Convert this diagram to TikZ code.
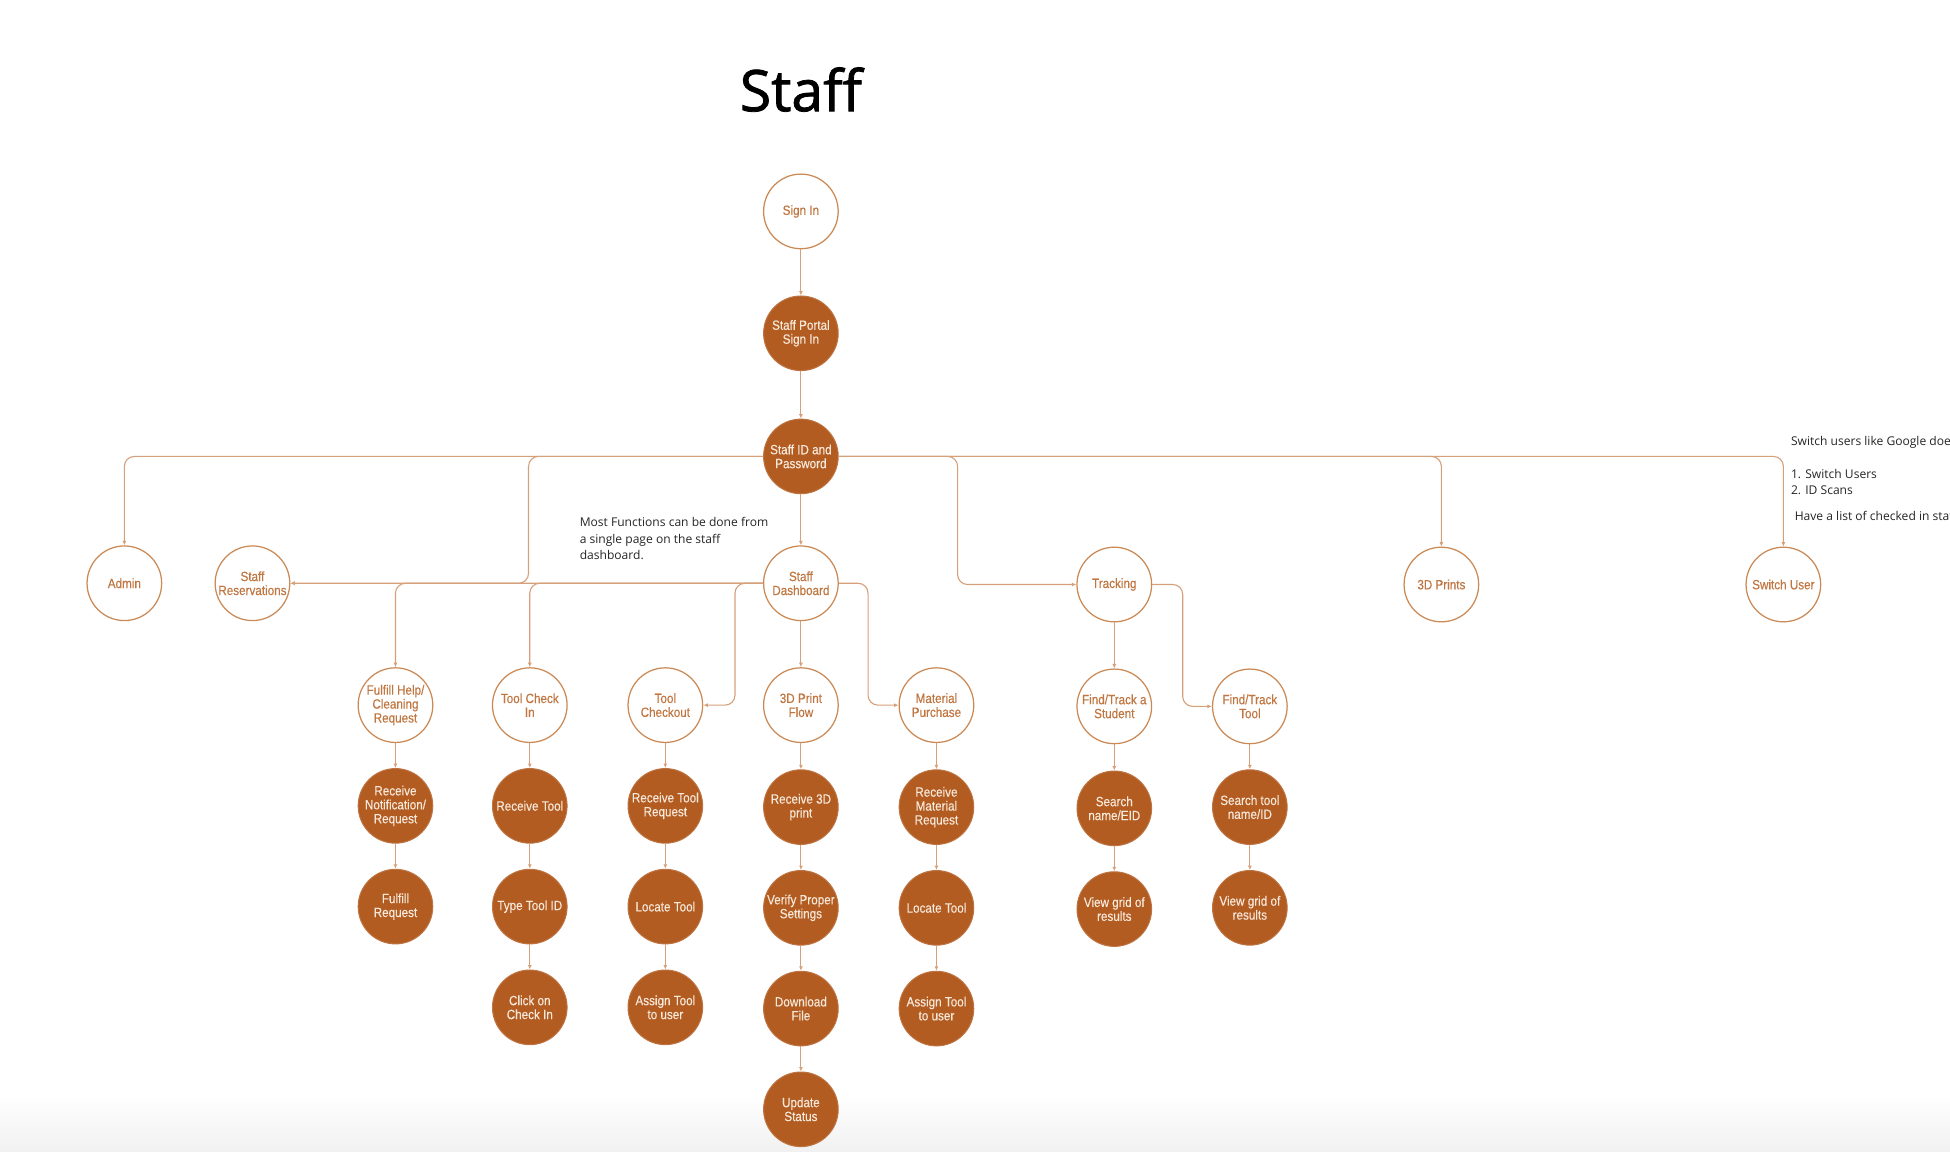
\documentclass[tikz,border=0pt]{standalone}
\usepackage{fontspec}
\setmainfont{Liberation Sans}
\newfontfamily\nodefont{Liberation Sans}[FakeStretch=0.87,FakeBold=0.25]
\newfontfamily\notefont{Open Sans}
\newfontfamily\titlefont{Open Sans}[FakeBold=1.4]
\usetikzlibrary{arrows.meta}
\definecolor{brn}{HTML}{B25C21}
\definecolor{ring}{HTML}{CB8955}
\definecolor{lnk}{HTML}{D6A17A}
\definecolor{lbl}{HTML}{C07640}
\definecolor{cream}{HTML}{F7E8DA}
\definecolor{bandgray}{HTML}{F1F1F1}
\tikzset{
  nbase/.style={circle, minimum size=60pt, inner sep=0pt, align=center,
    font=\nodefont\fontsize{10.8}{11.2}\selectfont},
  ringnode/.style={nbase, draw=ring, line width=1pt, fill=white, text=lbl},
  fillnode/.style={nbase, draw=brn!85!white, line width=0.8pt, fill=brn, text=cream},
  conn/.style={draw=lnk, line width=0.9pt, rounded corners=8pt,
    -{Latex[length=3.6pt,width=3.2pt]}},
  note/.style={font=\notefont\fontsize{9.7}{13}\selectfont, text=black!85, inner sep=0pt, align=left}
}
\begin{document}
\begin{tikzpicture}[x=1pt,y=-1pt]
\useasboundingbox (0,0) rectangle (1568,926);
\clip (0,0) rectangle (1568,926);
\fill[white] (0,0) rectangle (1568,926);
\shade[top color=white, bottom color=bandgray] (0,880) rectangle (1568,926);

\node[font=\titlefont\fontsize{46}{50}\selectfont] (title) at (644,72) {Staff};

% top chain
\node[ringnode] (signin) at (644,170) {Sign In};
\node[fillnode] (portal) at (644,268) {Staff Portal\\Sign In};
\node[fillnode] (sid) at (644,367) {Staff ID and\\Password};

% second level
\node[ringnode] (admin) at (100,469) {Admin};
\node[ringnode] (res) at (203,469) {Staff\\Reservations};
\node[ringnode] (sd) at (644,469) {Staff\\Dashboard};
\node[ringnode] (trk) at (896,470) {Tracking};
\node[ringnode] (p3) at (1159,470) {3D Prints};
\node[ringnode] (sw) at (1434,470) {Switch User};

% third level
\node[ringnode] (ful) at (318,567) {Fulfill Help/\\Cleaning\\Request};
\node[ringnode] (tci) at (426,567) {Tool Check\\In};
\node[ringnode] (tco) at (535,567) {Tool\\Checkout};
\node[ringnode] (pf) at (644,567) {3D Print\\Flow};
\node[ringnode] (mp) at (753,567) {Material\\Purchase};
\node[ringnode] (fs) at (896,568) {Find/Track a\\Student};
\node[ringnode] (ft) at (1005,568) {Find/Track\\Tool};

% filled chains
\node[fillnode] (ful1) at (318,648) {Receive\\Notification/\\Request};
\node[fillnode] (ful2) at (318,729) {Fulfill\\Request};

\node[fillnode] (tci1) at (426,648) {Receive Tool};
\node[fillnode] (tci2) at (426,729) {Type Tool ID};
\node[fillnode] (tci3) at (426,810) {Click on\\Check In};

\node[fillnode] (tco1) at (535,648) {Receive Tool\\Request};
\node[fillnode] (tco2) at (535,729) {Locate Tool};
\node[fillnode] (tco3) at (535,810) {Assign Tool\\to user};

\node[fillnode] (pf1) at (644,649) {Receive 3D\\print};
\node[fillnode] (pf2) at (644,730) {Verify Proper\\Settings};
\node[fillnode] (pf3) at (644,811) {Download\\File};
\node[fillnode] (pf4) at (644,892) {Update\\Status};

\node[fillnode] (mp1) at (753,649) {Receive\\Material\\Request};
\node[fillnode] (mp2) at (753,730) {Locate Tool};
\node[fillnode] (mp3) at (753,811) {Assign Tool\\to user};

\node[fillnode] (fs1) at (896,650) {Search\\name/EID};
\node[fillnode] (fs2) at (896,731) {View grid of\\results};

\node[fillnode] (ft1) at (1005,649) {Search tool\\name/ID};
\node[fillnode] (ft2) at (1005,730) {View grid of\\results};

% bend helpers
\coordinate (bx1) at (425,420);
\coordinate (bx2) at (591,520);
\coordinate (bx3) at (698,520);
\coordinate (bx4) at (770,420);
\coordinate (bx5) at (951,520);

% connectors
\draw[conn] (signin) -- (portal);
\draw[conn] (portal) -- (sid);
\draw[conn] (sid) -- (sd);
\draw[conn] (sid.west) -| (admin.north);
\draw[conn] (sid.west) -| (bx1) |- (res.east);
\draw[conn] (sid.east) -| (bx4) |- (trk.west);
\draw[conn] (sid.east) -| (p3.north);
\draw[conn] (sid.east) -| (sw.north);

\draw[conn] (sd.west) -- (res.east);
\draw[conn] (sd.west) -| (ful.north);
\draw[conn] (sd.west) -| (tci.north);
\draw[conn] (sd.west) -| (bx2) |- (tco.east);
\draw[conn] (sd) -- (pf);
\draw[conn] (sd.east) -| (bx3) |- (mp.west);

\draw[conn] (trk) -- (fs);
\draw[conn] (trk.east) -| (bx5) |- (ft.west);

\draw[conn] (ful) -- (ful1);
\draw[conn] (ful1) -- (ful2);
\draw[conn] (tci) -- (tci1);
\draw[conn] (tci1) -- (tci2);
\draw[conn] (tci2) -- (tci3);
\draw[conn] (tco) -- (tco1);
\draw[conn] (tco1) -- (tco2);
\draw[conn] (tco2) -- (tco3);
\draw[conn] (pf) -- (pf1);
\draw[conn] (pf1) -- (pf2);
\draw[conn] (pf2) -- (pf3);
\draw[conn] (pf3) -- (pf4);
\draw[conn] (mp) -- (mp1);
\draw[conn] (mp1) -- (mp2);
\draw[conn] (mp2) -- (mp3);
\draw[conn] (fs) -- (fs1);
\draw[conn] (fs1) -- (fs2);
\draw[conn] (ft) -- (ft1);
\draw[conn] (ft1) -- (ft2);

% notes
\node[note, anchor=north west] (n1) at (466,416) {Most Functions can be done from\\a single page on the staff\\dashboard.};
\node[note, anchor=west] (n2) at (1440,356) {Switch users like Google does};
\node[note, anchor=north west] (n3) at (1440,377) {1. Switch Users\\2. ID Scans};
\node[note, anchor=west] (n4) at (1443,415) {Have a list of checked in staff};
\end{tikzpicture}
\end{document}
